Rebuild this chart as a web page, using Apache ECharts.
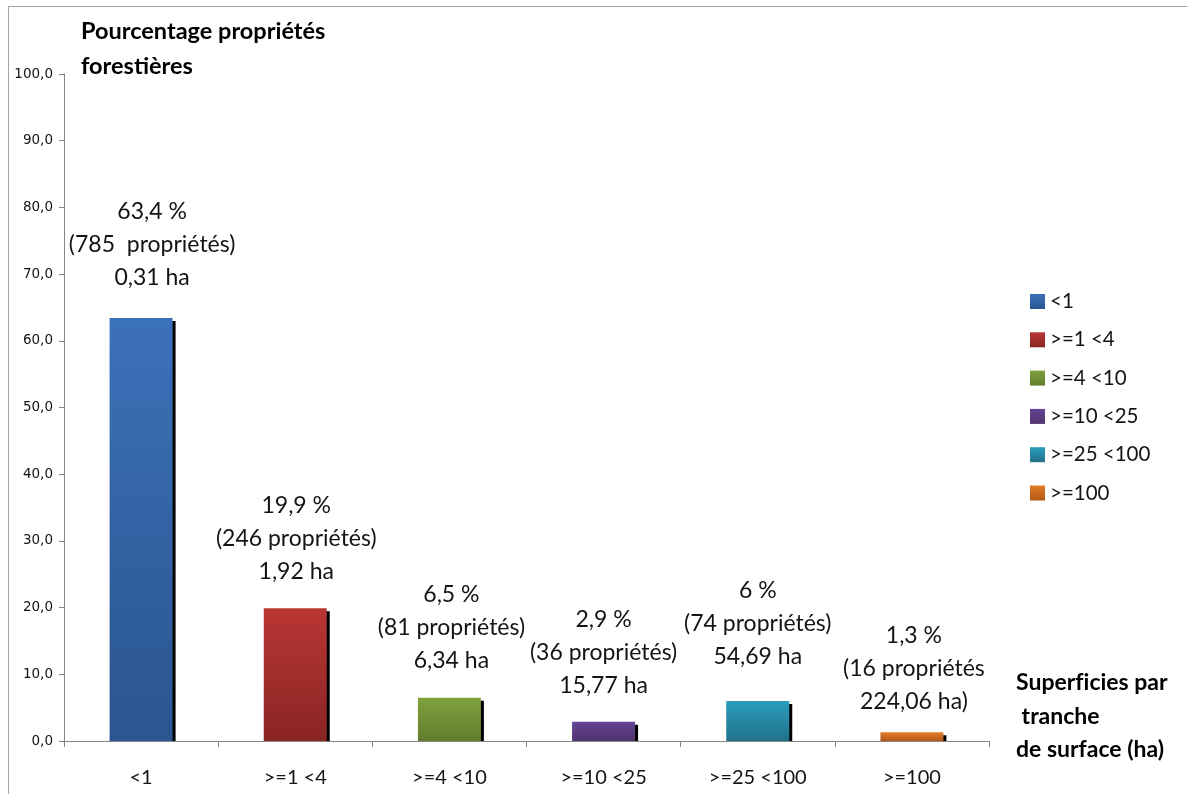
<!DOCTYPE html>
<html>
<head>
<meta charset="utf-8">
<script src="https://cdn.jsdelivr.net/npm/echarts@6/dist/echarts.min.js"></script>
<style>
  html, body { margin: 0; padding: 0; background: #fff; }
  #chart { width: 1187px; height: 794px; }
</style>
</head>
<body>
<div id="chart"></div>
<script>
// Size classes of forest holdings (ha)
const categories = ['<1', '>=1 <4', '>=4 <10', '>=10 <25', '>=25 <100', '>=100'];
// Share of forest holdings in each class (%)
const percentages = [63.4, 19.9, 6.5, 2.9, 6, 1.3];
// Number of holdings in each class
const propertyCounts = ['(785  propriétés)', '(246 propriétés)', '(81 propriétés)', '(36 propriétés)', '(74 propriétés)', '(16 propriétés'];
// Mean area per holding
const meanAreas = ['0,31 ha', '1,92 ha', '6,34 ha', '15,77 ha', '54,69 ha', '224,06 ha)'];

// Bar colours: top / bottom of the vertical gradient
const topColors = ['#3b71b9', '#b93634', '#7fa13d', '#654494', '#2b9dbd', '#e37b27'];
const bottomColors = ['#2a558f', '#892523', '#627d2d', '#51346f', '#21718a', '#b45819'];
// Nudges for the three-line value labels above each bar
const labelOffsets = [[11, -24], [1, -20], [2, -21], [0, -20], [0, -28], [2, -14]];

const FONT = 'Lato, "Open Sans", sans-serif';

function pct(v) {
  return String(v).replace('.', ',') + ' %';
}

const series = categories.map((name, i) => ({
  name: name,
  type: 'bar',
  barWidth: 63,
  barGap: '-100%',
  data: categories.map((c, j) => (j === i ? percentages[i] : '-')),
  itemStyle: {
    color: new echarts.graphic.LinearGradient(0, 0, 0, 1, [
      { offset: 0, color: topColors[i] },
      { offset: 1, color: bottomColors[i] }
    ]),
    shadowColor: '#000',
    shadowBlur: 0,
    shadowOffsetX: 3,
    shadowOffsetY: 3
  },
  label: {
    show: true,
    position: 'top',
    distance: 0,
    offset: labelOffsets[i],
    align: 'center',
    fontFamily: FONT,
    fontSize: 23,
    lineHeight: 33,
    color: '#141414',
    formatter: () => [pct(percentages[i]), propertyCounts[i], meanAreas[i]].join('\n')
  },
  emphasis: { disabled: true }
}));

const chart = echarts.init(document.getElementById('chart'), null, { renderer: 'canvas' });
chart.setOption({
  animation: false,
  backgroundColor: '#fff',
  title: [
    {
      text: 'Pourcentage propriétés\nforestières',
      left: 76, top: 9,
      textStyle: { fontFamily: FONT, fontSize: 23.5, fontWeight: 'bold', lineHeight: 35, color: '#000' }
    },
    {
      // ZWNJ keeps "f" and "i" as separate glyphs
      text: 'Superf\u200Cicies par\n tranche\nde surface (ha)',
      left: 1011, top: 661,
      textStyle: { fontFamily: FONT, fontSize: 23, fontWeight: 'bold', lineHeight: 33.5, color: '#000' }
    }
  ],
  graphic: [
    {
      type: 'rect',
      shape: { x: 8.5, y: 6.5, width: 1400, height: 1000 },
      style: { fill: 'none', stroke: '#a3a3a3', lineWidth: 1 },
      silent: true
    },
    {
      // white strip under the category axis so bar shadows stop at the baseline
      type: 'rect',
      left: 66, bottom: 46,
      shape: { width: 920, height: 6.5 },
      style: { fill: '#fff' },
      z: 3,
      silent: true
    }
  ],
  legend: {
    orient: 'vertical',
    left: 1025,
    top: 286,
    icon: 'rect',
    itemWidth: 15,
    itemHeight: 15,
    itemGap: 17.3,
    data: categories,
    textStyle: { fontFamily: FONT, fontSize: 20.5, color: '#141414' },
    itemStyle: { shadowBlur: 0, shadowOffsetX: 0, shadowOffsetY: 0, shadowColor: 'transparent' }
  },
  grid: { left: 64, right: 198, top: 74, bottom: 53, containLabel: false },
  xAxis: {
    type: 'category',
    z: 10,
    data: categories,
    axisLine: { lineStyle: { color: '#868686', width: 1 } },
    axisTick: { show: true, length: 6, lineStyle: { color: '#868686' } },
    axisLabel: { fontFamily: FONT, fontSize: 20, color: '#141414', margin: 27 },
    splitLine: { show: false }
  },
  yAxis: {
    type: 'value',
    min: 0, max: 100, interval: 10,
    axisLine: { show: true, lineStyle: { color: '#868686', width: 1 } },
    axisTick: { show: true, length: 5, lineStyle: { color: '#868686' } },
    axisLabel: {
      fontFamily: '"DejaVu Sans", sans-serif', fontSize: 13.5, color: '#141414', margin: 11,
      formatter: v => v.toFixed(1).replace('.', ',')
    },
    splitLine: { show: false }
  },
  series: series
});
</script>
</body>
</html>
